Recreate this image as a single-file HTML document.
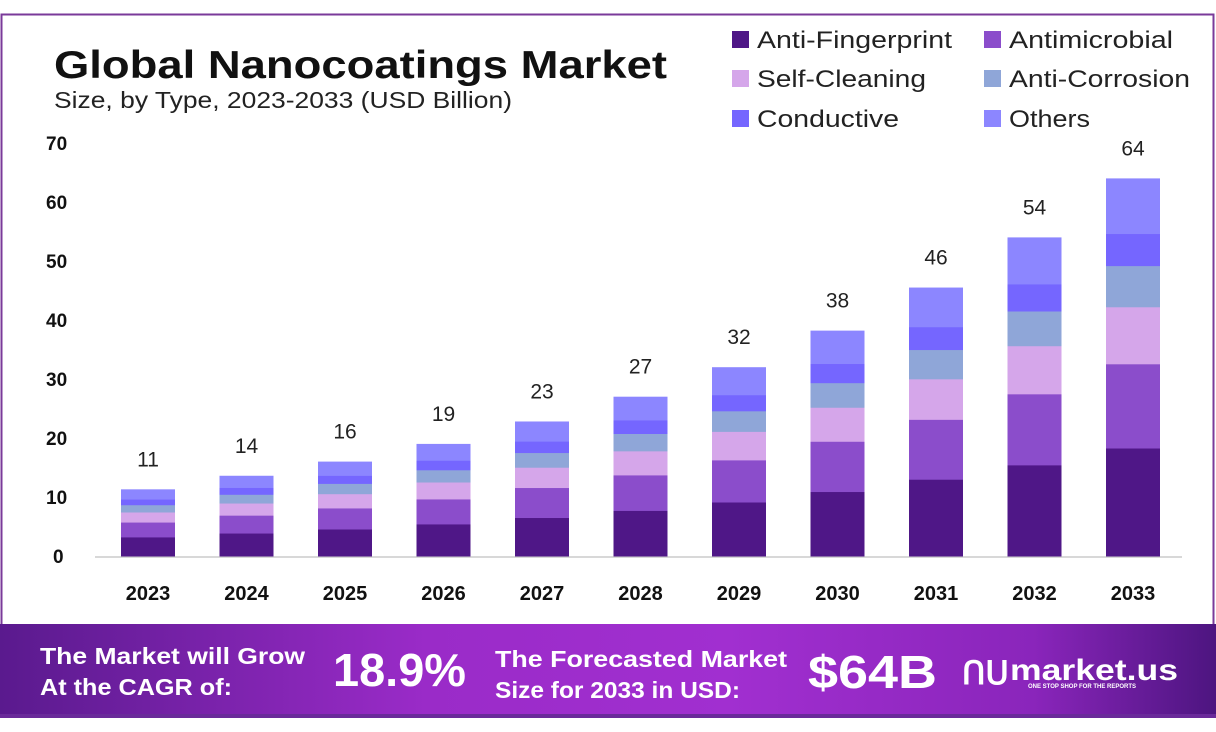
<!DOCTYPE html>
<html><head><meta charset="utf-8"><style>
html,body{margin:0;padding:0;background:#fff;width:1216px;height:732px;overflow:hidden;font-family:"Liberation Sans",sans-serif}
</style></head><body>
<svg id="s" width="1216" height="732" xmlns="http://www.w3.org/2000/svg">
<defs>
<linearGradient id="ft" x1="0" x2="1" y1="0" y2="0">
<stop offset="0" stop-color="#5a1a8e"/><stop offset="0.35" stop-color="#9a2bc8"/><stop offset="0.6" stop-color="#a12fd0"/><stop offset="0.85" stop-color="#8a25bb"/><stop offset="1" stop-color="#4d1580"/>
</linearGradient>
</defs>
<rect x="1.5" y="14.5" width="1212" height="620" fill="#fff" stroke="#7a3a9a" stroke-width="2"/>
<text x="54" y="78" font-size="39" font-weight="bold" fill="#111" textLength="613" lengthAdjust="spacingAndGlyphs">Global Nanocoatings Market</text>
<text x="54" y="108" font-size="23" fill="#222" textLength="458" lengthAdjust="spacingAndGlyphs">Size, by Type, 2023-2033 (USD Billion)</text>
<g font-size="24" fill="#222">
<rect x="732" y="31" width="17" height="17" fill="#4f1787"/><text x="757" y="48" textLength="195" lengthAdjust="spacingAndGlyphs">Anti-Fingerprint</text>
<rect x="984" y="31" width="17" height="17" fill="#8b4dcb"/><text x="1009" y="48" textLength="164" lengthAdjust="spacingAndGlyphs">Antimicrobial</text>
<rect x="732" y="70" width="17" height="17" fill="#d5a6ea"/><text x="757" y="87" textLength="169" lengthAdjust="spacingAndGlyphs">Self-Cleaning</text>
<rect x="984" y="70" width="17" height="17" fill="#8fa6d8"/><text x="1009" y="87" textLength="181" lengthAdjust="spacingAndGlyphs">Anti-Corrosion</text>
<rect x="732" y="110" width="17" height="17" fill="#7566ff"/><text x="757" y="127" textLength="142" lengthAdjust="spacingAndGlyphs">Conductive</text>
<rect x="984" y="110" width="17" height="17" fill="#8c86ff"/><text x="1009" y="127" textLength="81" lengthAdjust="spacingAndGlyphs">Others</text>
</g>
<g id="ax" font-size="19" font-weight="bold" fill="#111"></g>
<line x1="95" x2="1182" y1="557" y2="557" stroke="#ccc" stroke-width="1.5"/>
<g id="bars"></g>
<rect x="0" y="624" width="1216" height="94" fill="url(#ft)"/>
<rect x="0" y="714" width="1216" height="4" fill="#6a2a9a"/>
<g fill="#fff" font-weight="bold">
<text x="40" y="664" font-size="23" textLength="265" lengthAdjust="spacingAndGlyphs">The Market will Grow</text>
<text x="40" y="695" font-size="23" textLength="192" lengthAdjust="spacingAndGlyphs">At the CAGR of:</text>
<text x="333" y="686" font-size="46" textLength="133" lengthAdjust="spacingAndGlyphs">18.9%</text>
<text x="495" y="667" font-size="23" textLength="292" lengthAdjust="spacingAndGlyphs">The Forecasted Market</text>
<text x="495" y="698" font-size="23" textLength="245" lengthAdjust="spacingAndGlyphs">Size for 2033 in USD:</text>
<text x="808" y="688" font-size="46" textLength="129" lengthAdjust="spacingAndGlyphs">$64B</text>
<text x="1010" y="680" font-size="30" textLength="168" lengthAdjust="spacingAndGlyphs">market.us</text>
<text x="1028" y="688" font-size="6">ONE STOP SHOP FOR THE REPORTS</text>
<text x="962" y="684" font-size="32">ՈՍ</text>
</g>
</svg>
<script>
var NS="http://www.w3.org/2000/svg";
function el(p,t,a,txt){var e=document.createElementNS(NS,t);for(var k in a)e.setAttribute(k,a[k]);if(txt!==undefined)e.textContent=txt;p.appendChild(e);return e;}
var ax=document.getElementById('ax');
for(var v=0;v<=70;v+=10){el(ax,'text',{x:(v==0?53:46),y:556-v*5.9+7},String(v));}
var vals=[11.3,13.6,16,19,22.8,27,32,38.2,45.5,54,64];
var fr=[0.286,0.223,0.151,0.109,0.085,0.146];
var cols=['#4f1787','#8b4dcb','#d5a6ea','#8fa6d8','#7566ff','#8c86ff'];
var labs=['11','14','16','19','23','27','32','38','46','54','64'];
var g=document.getElementById('bars');
for(var i=0;i<11;i++){
 var cx=148+i*98.5, H=vals[i]*5.9, y=556;
 for(var j=0;j<6;j++){var h=H*fr[j];el(g,'rect',{x:cx-27,y:y-h,width:54,height:h+0.5,fill:cols[j]});y-=h;}
 el(g,'text',{x:cx,y:556-H-23,'font-size':21,fill:'#222','text-anchor':'middle'},labs[i]);
 el(g,'text',{x:cx,y:600,'font-size':20,'font-weight':'bold',fill:'#111','text-anchor':'middle'},String(2023+i));
}
</script>
</body></html>
